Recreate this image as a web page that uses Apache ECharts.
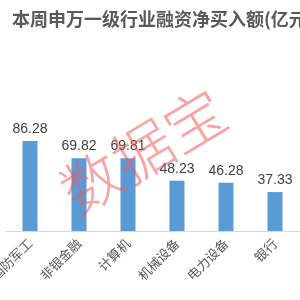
<!DOCTYPE html>
<html><head><meta charset="utf-8">
<script src="https://cdn.jsdelivr.net/npm/echarts@6/dist/echarts.min.js"></script>
<style>html,body{margin:0;padding:0;background:#fff}#c{width:300px;height:300px}</style>
</head><body><div id="c"></div>
<script>
var categories = ['国防军工','非银金融','计算机','机械设备','电力设备','银行','汽车'];
var values = [86.28, 69.82, 69.81, 48.23, 46.28, 37.33, 30.5];
var titleText = '本周申万一级行业融资净买入额(亿元)';
var watermark = '数据宝';

var chart = echarts.init(document.getElementById('c'));
chart.setOption({
  animation: false,
  title: {
    text: titleText, left: 7, top: 5,
    textStyle: {fontFamily: 'Noto Sans CJK SC', fontSize: 18, fontWeight: 'bold', color: '#595959'}
  },
  grid: {left: 5.5, top: 126.7, width: 343, height: 104.3, containLabel: false, outerBoundsMode: 'none'},
  xAxis: {
    type: 'category', data: categories,
    axisLine: {lineStyle: {color: '#d9d9d9'}},
    axisTick: {show: false},
    axisLabel: {rotate: 45, interval: 0, margin: 10, fontFamily: 'Noto Sans CJK SC', fontSize: 13, color: '#595959'}
  },
  yAxis: {type: 'value', min: 0, max: 100, show: false, splitLine: {show: false}},
  series: [{
    type: 'bar', data: values, barWidth: 15,
    itemStyle: {color: '#5B9BD5'},
    label: {show: true, position: 'top', distance: 5, fontFamily: 'Liberation Sans', fontSize: 14, color: '#404040',
      formatter: function(p){ return p.value.toFixed(2); }}
  }],
  graphic: [{
    type: 'text', x: 143, y: 151, rotation: 31 * Math.PI / 180, z: 100,
    style: {text: watermark, font: '300 60px "Noto Sans CJK SC"', fill: 'rgba(240,90,90,0.55)', align: 'center', verticalAlign: 'middle'}
  }]
});
</script></body></html>
